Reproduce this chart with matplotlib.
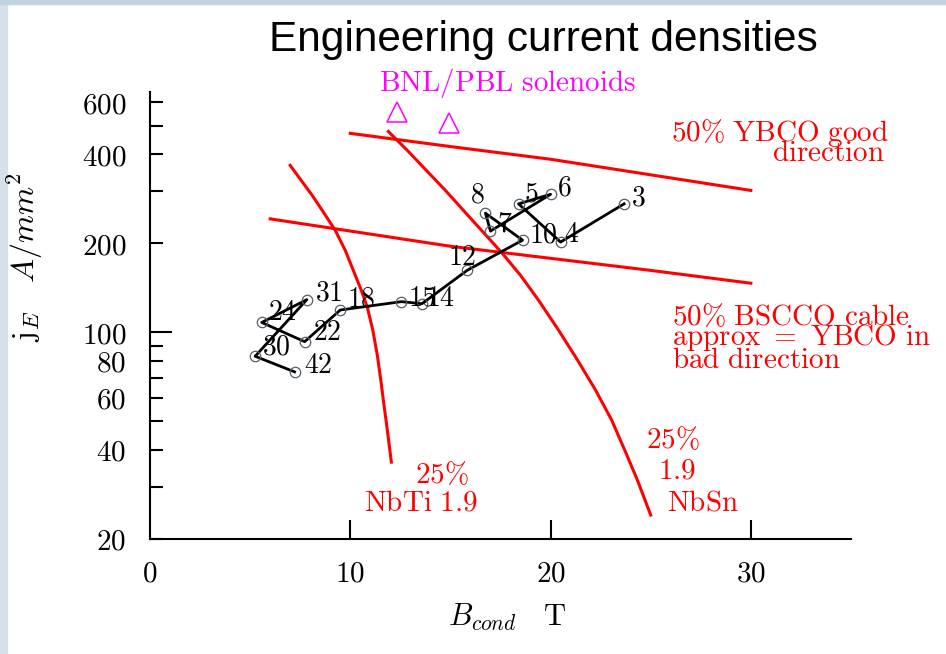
import matplotlib.pyplot as plt
from matplotlib.patches import Rectangle

plt.rcParams['mathtext.fontset'] = 'cm'

# magnets: conductor field (T) and engineering current density (A/mm^2), joined in this order
b_cond = [23.67, 20.5, 18.4, 20.0, 17.0, 16.75, 18.6, 15.83, 13.58, 12.55, 9.5, 7.72, 5.58, 7.83, 5.25, 7.22]
j_eng = [272, 202, 272, 293, 220, 253, 205, 162, 125, 127, 119, 93, 108, 129, 83, 73.5]
point_labels = ['3', '4', '5', '6', '7', '8', '10', '12', '14', '15', '18', '22', '24', '31', '30', '42']

# BNL/PBL solenoids
sol_b = [12.35, 14.95]
sol_j = [555, 510]

# conductor limit curves
ybco_b = [10.0, 15.0, 20.0, 25.0, 30.0]
ybco_j = [471, 425, 385, 341, 302]
bscco_b = [6.0, 15.0, 25.0, 30.0]
bscco_j = [242, 195.5, 162, 146.6]
nbti_b = [7.0, 7.55, 8.1, 8.6, 9.25, 9.75, 10.15, 10.55, 10.85, 11.125,
          11.35, 11.525, 11.65, 11.85, 12.05]
nbti_j = [367, 326.4, 290.5, 258.5, 221.3, 189.4, 162.1, 138.7, 121.6, 101.7,
          83.7, 68.9, 59.0, 46.7, 36.4]
nbsn_b = [11.9, 12.85, 13.8, 14.75, 15.65, 16.55, 17.55, 18.5, 19.4, 20.4,
          21.35, 22.25, 23.05, 23.7, 24.33, 25.0]
nbsn_j = [478, 412.4, 352.8, 302, 258.5, 221.3, 186.4, 155.9, 128.4, 101.7,
          80.5, 63.7, 50.5, 40.0, 31.7, 24.1]

y_major = [20, 40, 60, 80, 100, 200, 400, 600]
y_minor = [30, 50, 70, 90, 300, 500]
x_ticks = [0, 10, 20, 30]

# label nudges in pixels (dx, dy)
label_off = {'3': (7, -2), '4': (3, 0), '5': (5, 2), '6': (6, -1), '7': (7, 0),
             '8': (-15, 11), '10': (6, -2), '12': (-19, 5), '14': (4, -2),
             '15': (7, -4), '18': (7, 4), '22': (8, 2), '24': (6, 2),
             '31': (8, -1), '30': (7, 2), '42': (9, -1)}


def rm(s):
    return r'$\mathrm{' + s.replace('%', r'\%').replace(' ', r'\ ') + '}$'


fig = plt.figure(figsize=(9.46, 6.54), dpi=100)
fig.patches.append(Rectangle((0, 0), 7 / 946, 1, transform=fig.transFigure,
                             color='#d6e0ea', zorder=-10))
fig.patches.append(Rectangle((0, 1 - 4 / 654), 1, 4 / 654, transform=fig.transFigure,
                             color='#c3d2df', zorder=-10))
ax = fig.add_axes([150 / 946, 1 - 539 / 654, 701 / 946, 447 / 654])
ax.set_yscale('log')
ax.set_xlim(0, 35)
ax.set_ylim(20, 650)

red = '#ff0000'
for bb, jj in [(ybco_b, ybco_j), (bscco_b, bscco_j), (nbti_b, nbti_j), (nbsn_b, nbsn_j)]:
    ax.plot(bb, jj, color=red, lw=2.2, solid_joinstyle='round')

ax.plot(b_cond, j_eng, color='black', lw=2.0, marker='o', ms=7.5,
        mfc='none', mec='#56606a', mew=0.9)
for b, j, lab in zip(b_cond, j_eng, point_labels):
    dx, dy = label_off[lab]
    ax.annotate(rm(lab), (b, j), xytext=(dx, dy), textcoords='offset pixels',
                ha='left', va='baseline', fontsize=20, color='black')

ax.plot(sol_b, sol_j, ls='none', marker='^', ms=15, mfc='none', mec='magenta',
        mew=1.1, clip_on=False)
ax.text(17.85, 657, rm('BNL/PBL solenoids'), color='magenta', fontsize=21,
        ha='center', va='baseline')

ax.text(26.0, 445, rm('50% YBCO good'), color=red, fontsize=21, va='baseline')
ax.text(31.05, 381, rm('direction'), color=red, fontsize=21, va='baseline')
ax.text(26.05, 106, rm('50% BSCCO cable'), color=red, fontsize=21, va='baseline')
ax.text(26.05, 90.4, rm('approx = YBCO in'), color=red, fontsize=21, va='baseline')
ax.text(26.05, 75.7, rm('bad direction'), color=red, fontsize=21, va='baseline')
ax.text(24.75, 40.6, rm('25%'), color=red, fontsize=21, va='baseline')
ax.text(25.35, 32.1, rm('1.9'), color=red, fontsize=21, va='baseline')
ax.text(25.8, 25.06, rm('NbSn'), color=red, fontsize=21, va='baseline')
ax.text(13.25, 30.9, rm('25%'), color=red, fontsize=21, va='baseline')
ax.text(10.7, 25.06, rm('NbTi 1.9'), color=red, fontsize=21, va='baseline')

for side in ['top', 'right']:
    ax.spines[side].set_visible(False)
for side in ['left', 'bottom']:
    ax.spines[side].set_linewidth(1.5)

ax.set_yticks(y_major)
ax.set_yticklabels(['$%d$' % v for v in y_major])
ax.set_yticks(y_minor, minor=True)
ax.set_yticklabels([], minor=True)
ax.tick_params(axis='y', which='both', direction='in', length=9.5, width=1.5,
               labelsize=21, pad=17)
ax.yaxis.get_major_ticks()[4].tick1line.set_markersize(15.5)
ax.set_xticks(x_ticks)
ax.set_xticklabels(['$%d$' % v for v in x_ticks])
ax.tick_params(axis='x', which='both', direction='in', length=14, width=1.5,
               labelsize=21, pad=15)
ax.xaxis.get_major_ticks()[0].tick1line.set_visible(False)

ax.set_xlabel(r'$B_{cond}\quad\mathrm{T}$', fontsize=22)
ax.xaxis.set_label_coords(0.51, -0.14)
ax.set_ylabel(r'$\mathrm{j}_E\quad A/mm^2$', fontsize=23)
ax.yaxis.set_label_coords(-0.15, 0.63)

fig.text(543 / 946, 1 - 40 / 654, 'Engineering current densities',
         family='Liberation Sans', fontsize=30.5, ha='center', va='center')

fig.savefig('out.png', dpi=100)
